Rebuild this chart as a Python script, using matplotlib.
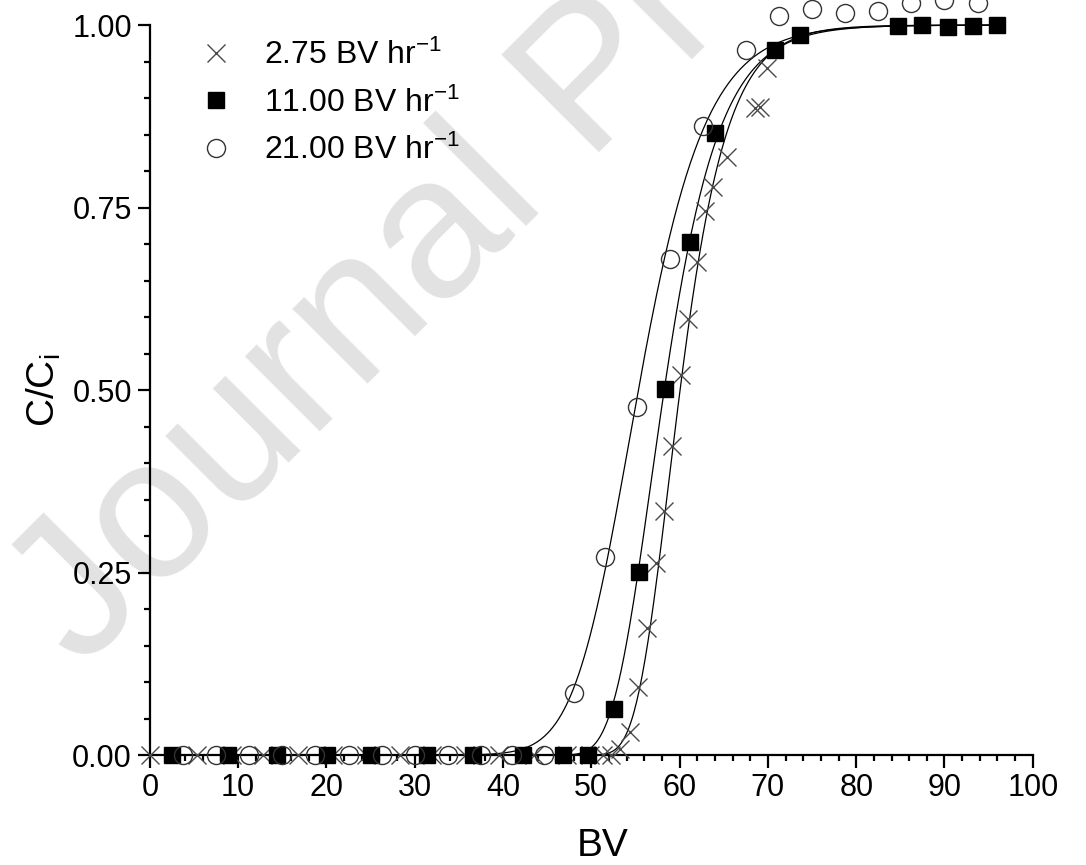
import numpy as np
import matplotlib.pyplot as plt
from matplotlib.lines import Line2D
from matplotlib.ticker import MultipleLocator, FormatStrFormatter

plt.rcParams['font.family'] = ['Liberation Sans', 'DejaVu Sans']
plt.rcParams['mathtext.default'] = 'regular'

# breakthrough data, C/Ci against bed volumes, for three flow rates
bv_275 = [0, 5.3, 9.3, 12.8, 16.8, 20.7, 24.5, 28.3, 32.0, 35.7, 39.5, 43.5,
          47.2, 49.8, 51.3, 52.2, 53.2, 54.4, 55.3, 56.3, 57.3, 58.2, 59.1,
          60.1, 61.0, 62.0, 62.9, 63.8, 65.4, 68.5, 69.1, 69.9]
c_275 = [0, 0, 0, 0, 0, 0, 0, 0, 0, 0, 0, 0,
         0, 0, 0, 0, 0.009, 0.032, 0.094, 0.174, 0.263, 0.334, 0.424,
         0.521, 0.598, 0.675, 0.746, 0.778, 0.819, 0.886, 0.888, 0.941]

bv_11 = [2.5, 8.9, 14.4, 20.1, 25.0, 31.4, 36.6, 42.3, 46.8, 49.6, 52.6,
         55.4, 58.3, 61.2, 64.0, 70.8, 73.6, 84.7, 87.5, 90.4, 93.2, 96.0]
c_11 = [0, 0, 0, 0, 0, 0, 0, 0, 0, 0, 0.063,
        0.251, 0.501, 0.703, 0.852, 0.966, 0.986, 0.999, 1.0, 0.998, 0.999, 1.0]

bv_21 = [3.75, 7.5, 11.25, 15.0, 18.75, 22.5, 26.25, 30.0, 33.75, 37.5, 41.0,
         44.6, 48.0, 51.6, 55.2, 58.9, 62.6, 67.5, 71.25, 75.0, 78.75,
         82.5, 86.25, 90.0, 93.75]
c_21 = [0, 0, 0, 0, 0, 0, 0, 0, 0, 0, 0,
        0, 0.085, 0.271, 0.477, 0.679, 0.862, 0.966, 1.012, 1.022, 1.016,
        1.019, 1.030, 1.035, 1.030]

labels = ['2.75 BV hr$^{-1}$', '11.00 BV hr$^{-1}$', '21.00 BV hr$^{-1}$']

# fitted model parameters (x0, k, nu) for each flow rate
fit_x0 = [58.8, 56.8, 54.3]
fit_k = [0.28, 0.24, 0.22]
fit_nu = [0.05, 0.05, 0.4]


def model(x, x0, k, nu):
    return (1 + nu * np.exp(-k * (x - x0))) ** (-1 / nu)


fig = plt.figure(figsize=(10.86, 8.65), dpi=100)
fig.text(0.075, 0.225, 'Journal Pre-proof', fontsize=145, color='#e2e2e2',
         rotation=45, rotation_mode='anchor', ha='left', va='baseline', zorder=-1)

ax = fig.add_axes([0.138, 0.127, 0.813, 0.844])
ax.set_facecolor('none')

xs = np.linspace(0, 96, 600)
for x0, k, nu in zip(fit_x0, fit_k, fit_nu):
    ax.plot(xs, model(xs, x0, k, nu), color='black', lw=0.9, zorder=2, clip_on=False)

ax.plot(bv_275, c_275, ls='none', marker='x', ms=13, mew=1.0, color='#4a4a4a',
        zorder=3, clip_on=False)
ax.plot(bv_11, c_11, ls='none', marker='s', ms=11.5, color='black',
        zorder=4, clip_on=False)
ax.plot(bv_21, c_21, ls='none', marker='o', ms=13, mew=1.0, mfc='none',
        mec='#333333', zorder=5, clip_on=False)

ax.set_xlim(0, 100)
ax.set_ylim(0, 1)
for side in ['top', 'right']:
    ax.spines[side].set_visible(False)
for side in ['left', 'bottom']:
    ax.spines[side].set_linewidth(1.6)

ax.xaxis.set_major_locator(MultipleLocator(10))
ax.xaxis.set_minor_locator(MultipleLocator(2))
ax.yaxis.set_major_locator(MultipleLocator(0.25))
ax.yaxis.set_minor_locator(MultipleLocator(0.05))
ax.yaxis.set_major_formatter(FormatStrFormatter('%.2f'))
ax.tick_params(which='major', direction='out', length=9, width=1.6,
               labelsize=22, pad=4)
ax.tick_params(which='minor', direction='out', length=4.5, width=1.6)

ax.set_xlabel('BV', fontsize=28)
ax.set_ylabel('C/C$_i$', fontsize=28)
ax.xaxis.set_label_coords(0.513, -0.1)
ax.yaxis.set_label_coords(-0.098, 0.5)

handles = [
    Line2D([], [], ls='none', marker='x', ms=13, mew=1.0, color='#4a4a4a'),
    Line2D([], [], ls='none', marker='s', ms=11.5, color='black'),
    Line2D([], [], ls='none', marker='o', ms=13, mew=1.0, mfc='none', mec='#333333'),
]
ax.legend(handles, labels, loc='upper left', bbox_to_anchor=(0.042, 0.997),
          frameon=False, fontsize=23, handlelength=1.0, handletextpad=1.0,
          labelspacing=0.5, borderaxespad=0)

fig.savefig('out.png', dpi=100)
